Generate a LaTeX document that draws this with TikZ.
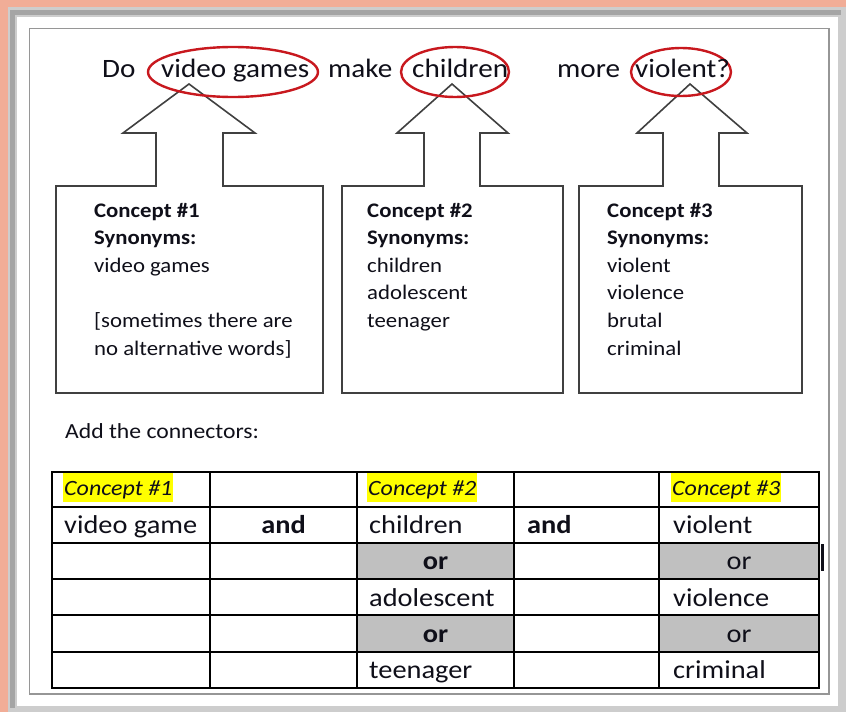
\documentclass[tikz,border=0pt]{standalone}
\usepackage{fontspec}
\setmainfont{Carlito}[FakeStretch=1.1]
\definecolor{salmon}{RGB}{241,173,151}
\definecolor{framelt}{RGB}{205,205,205}
\definecolor{framedk}{RGB}{165,165,165}
\definecolor{pageline}{RGB}{150,150,150}
\definecolor{ellred}{RGB}{200,24,30}
\definecolor{boxline}{RGB}{64,64,64}
\definecolor{ink}{RGB}{15,15,25}
\definecolor{cellgray}{RGB}{192,192,192}
\definecolor{hl}{RGB}{255,255,0}
\newcommand\myTitle{\fontsize{26.5}{30}\selectfont}
\newcommand\myBox{\fontsize{20.7}{27.6}\selectfont}
\newcommand\myAdd{\fontsize{21.5}{26}\selectfont}
\newcommand\myTab{\fontsize{25.8}{30}\selectfont}
\newcommand\myHead{\fontsize{21.8}{26}\selectfont}
\begin{document}
\begin{tikzpicture}[x=1pt,y=-1pt,
  txt/.style={inner sep=0pt, anchor=base west, text=ink},
  ctr/.style={inner sep=0pt, anchor=base, text=ink},
  boxst/.style={draw=boxline, line width=1.6pt, fill=white, line join=miter},
  ellst/.style={draw=ellred, line width=2.4pt},
  tabline/.style={draw=black, line width=1.4pt},
  hlbox/.style={anchor=base west, fill=hl, inner xsep=1pt, inner ysep=0pt,
     text height=22pt, text depth=7pt, text=ink, font={\myHead\itshape}}]
\useasboundingbox (0,0) rectangle (846,712);
% frame
\fill[salmon] (0,0) rectangle (846,712);
\fill[framelt] (8,7) rectangle (846,712);
\fill[framedk] (10,10) rectangle (841,15);
\fill[framedk] (10,10) rectangle (15,708);
\fill[white] (17,17) rectangle (838,706);
\draw[pageline, line width=1.2pt] (29.5,28.5) rectangle (829,694);
% boxes with block arrows
\draw[boxst] (56,186) -- (156,186) -- (156,133) -- (123,133) -- (189,84) -- (255,133) -- (223,133) -- (223,186) -- (323,186) -- (323,393) -- (56,393) -- cycle;
\draw[boxst] (342,186) -- (424,186) -- (424,133) -- (397,133) -- (452,84) -- (508,133) -- (480,133) -- (480,186) -- (563,186) -- (563,393) -- (342,393) -- cycle;
\draw[boxst] (579,186) -- (663,186) -- (663,133) -- (637,133) -- (690,84) -- (747,133) -- (719,133) -- (719,186) -- (802,186) -- (802,393) -- (579,393) -- cycle;
% ellipses
\draw[ellst] (233,72) ellipse [x radius=85, y radius=25];
\draw[ellst] (455,72) ellipse [x radius=54, y radius=25];
\draw[ellst] (681,72) ellipse [x radius=50, y radius=24];
% title
\node[txt,font=\myTitle] (tDo) at (102,77) {Do};
\node[txt,font=\myTitle] (tVG) at (161,77) {video games};
\node[txt,font=\myTitle] (tMake) at (328,77) {make};
\node[txt,font=\myTitle] (tChild) at (412,77) {children};
\node[txt,font=\myTitle] (tMore) at (557,77) {more};
\node[txt,font=\myTitle] (tViol) at (635,77) {violent?};
% box 1
\node[txt,font=\myBox\bfseries] (b1a) at (94,217) {Concept \#1};
\node[txt,font=\myBox\bfseries] (b1b) at (94,244.6) {Synonyms:};
\node[txt,font=\myBox] (b1c) at (94,272.2) {video games};
\node[txt,font=\myBox] (b1e) at (94,327.4) {[sometimes there are};
\node[txt,font=\myBox] (b1f) at (94,355) {no alternative words]};
% box 2
\node[txt,font=\myBox\bfseries] (b2a) at (367,217) {Concept \#2};
\node[txt,font=\myBox\bfseries] (b2b) at (367,244.6) {Synonyms:};
\node[txt,font=\myBox] (b2c) at (367,272.2) {children};
\node[txt,font=\myBox] (b2d) at (367,299.8) {adolescent};
\node[txt,font=\myBox] (b2e) at (367,327.4) {teenager};
% box 3
\node[txt,font=\myBox\bfseries] (b3a) at (607,217) {Concept \#3};
\node[txt,font=\myBox\bfseries] (b3b) at (607,244.6) {Synonyms:};
\node[txt,font=\myBox] (b3c) at (607,272.2) {violent};
\node[txt,font=\myBox] (b3d) at (607,299.8) {violence};
\node[txt,font=\myBox] (b3e) at (607,327.4) {brutal};
\node[txt,font=\myBox] (b3f) at (607,355) {criminal};
% instruction
\node[txt,font=\myAdd] (add) at (65,438) {Add the connectors:};
% table
\fill[cellgray] (357,543) rectangle (514,579);
\fill[cellgray] (659,543) rectangle (819,579);
\fill[cellgray] (357,615) rectangle (514,652);
\fill[cellgray] (659,615) rectangle (819,652);
\draw[tabline] (52,472) rectangle (819,688);
\foreach \cx in {210,357,514,659} \draw[tabline] (\cx,472) -- (\cx,688);
\foreach \ry in {507,543,579,615,652} \draw[tabline] (52,\ry) -- (819,\ry);
\node[hlbox] (h1) at (63,495) {Concept \#1};
\node[hlbox] (h2) at (367,495) {Concept \#2};
\node[hlbox] (h3) at (671,495) {Concept \#3};
\node[txt,font=\myTab] (r2a) at (64,533) {video game};
\node[ctr,font=\myTab\bfseries] (r2b) at (283.5,533) {and};
\node[txt,font=\myTab] (r2c) at (369,533) {children};
\node[txt,font=\myTab\bfseries] (r2d) at (527,533) {and};
\node[txt,font=\myTab] (r2e) at (673,533) {violent};
\node[ctr,font=\myTab\bfseries] (r3c) at (435.5,569) {or};
\node[ctr,font=\myTab] (r3e) at (739,569) {or};
\node[txt,font=\myTab] (r4c) at (369,606) {adolescent};
\node[txt,font=\myTab] (r4e) at (673,606) {violence};
\node[ctr,font=\myTab\bfseries] (r5c) at (435.5,642) {or};
\node[ctr,font=\myTab] (r5e) at (739,642) {or};
\node[txt,font=\myTab] (r6c) at (369,678) {teenager};
\node[txt,font=\myTab] (r6e) at (673,678) {criminal};
% text cursor
\draw[ink, line width=2.4pt] (822.5,544) -- (822.5,571);
\end{tikzpicture}
\end{document}
